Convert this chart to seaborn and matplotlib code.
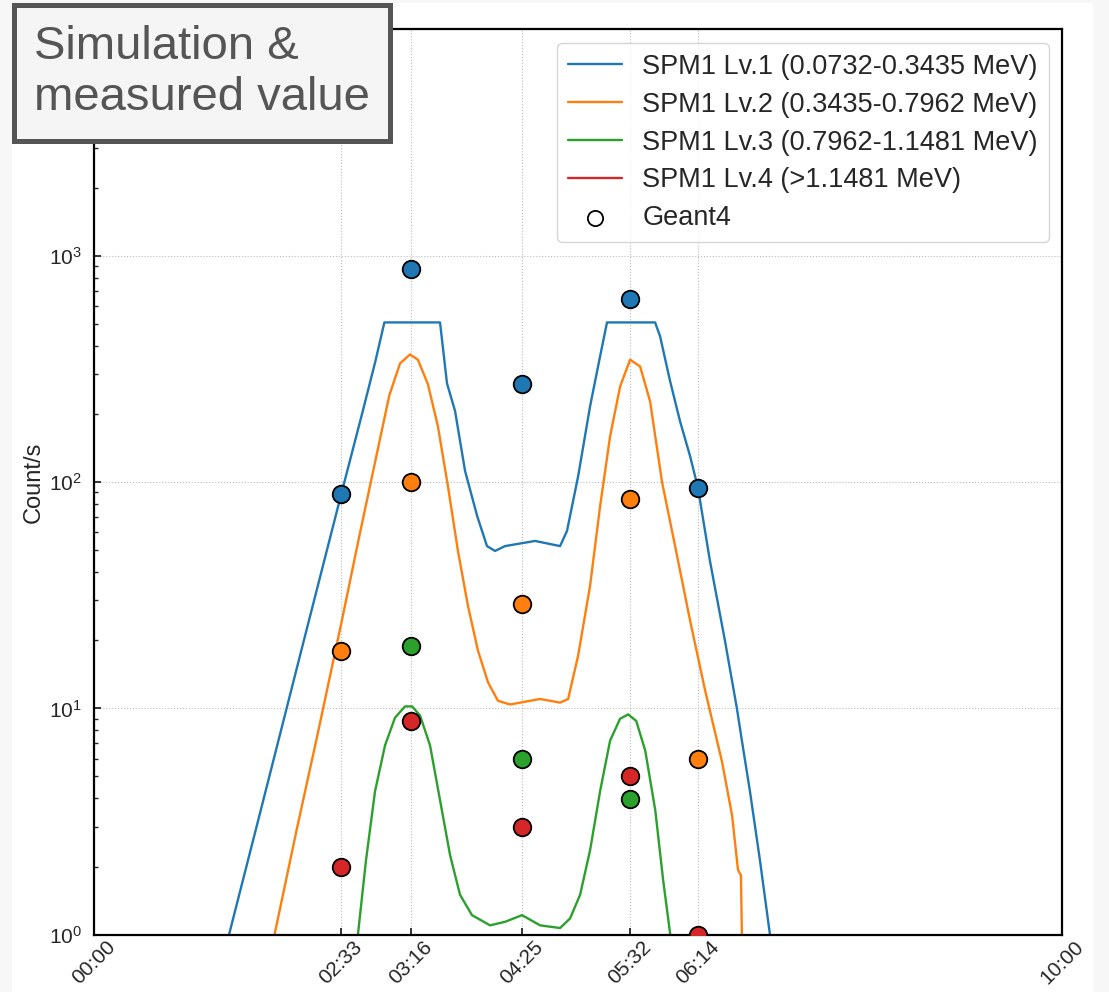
import matplotlib
matplotlib.use("Agg")
import matplotlib.pyplot as plt
import matplotlib.patches as mpatches
from matplotlib.ticker import LogLocator, NullFormatter, FuncFormatter
import numpy as np
import pandas as pd
import seaborn as sns

# ---------------- data ----------------
# simulated count rate curves (time in seconds, counts/s)
lv1_t = [83.5, 102.7, 127.5, 152.9, 166.2, 174.2, 179.8, 214.3, 218.6, 223.6, 229.8, 237.3,
         243.4, 248.4, 254.6, 273.2, 288.7, 293.0, 299.9, 307.3, 313.5, 317.8, 347.6, 350.7,
         356.9, 363.1, 369.3, 374.2, 381.6, 390.9, 398.3, 401.4, 406.4, 412.6, 418.8]
lv1_v = [1.0, 3.44, 17.1, 87.5, 203, 341, 507, 507, 273, 206, 112, 70.8,
         52.1, 49.6, 52.1, 54.9, 52.1, 60.8, 106, 216, 359, 507, 507, 440,
         279, 185, 130, 94, 44.8, 19.9, 10.0, 7.2, 4.3, 2.13, 1.0]

lv2_t = [111.7, 125.4, 138.6, 152.9, 164.3, 174.8, 182.9, 189.5, 195.7, 200.6, 206.8, 213.0,
         219.2, 225.4, 231.6, 237.8, 244.1, 250.2, 257.7, 276.3, 288.7, 293.7, 299.9, 307.3,
         313.5, 319.7, 325.9, 332.1, 338.3, 344.5, 351.9, 360.0, 369.3, 378.6, 389.1, 395.3,
         399.0, 400.8, 401.4]
lv2_v = [1.0, 2.9, 7.8, 23.4, 57.8, 130, 242, 334, 366, 347, 270, 176,
         95.7, 49.6, 28.4, 18.0, 13.0, 10.8, 10.4, 11.0, 10.6, 11.0, 17.1, 34.8,
         78, 159, 264, 347, 324, 227, 100, 52.1, 24.4, 12.0, 5.8, 3.37,
         1.93, 1.83, 1.0]

lv3_t = [163.4, 168.4, 174.0, 180.2, 186.4, 192.6, 197.0, 201.9, 208.1, 214.3, 220.5, 226.7,
         234.1, 245.3, 254.6, 265.1, 276.3, 288.7, 294.9, 301.1, 307.3, 313.5, 319.7, 325.9,
         330.9, 335.9, 341.5, 347.7, 352.6, 357.0]
lv3_v = [1.0, 2.13, 4.3, 6.86, 9.1, 10.2, 10.2, 9.3, 6.86, 3.93, 2.25, 1.5,
         1.22, 1.1, 1.14, 1.22, 1.1, 1.07, 1.18, 1.5, 2.36, 4.3, 7.2, 9.0,
         9.4, 8.8, 6.5, 3.55, 1.74, 1.0]

lv4_t = []
lv4_v = []

# Geant4 simulation points
g4_times = [153, 196, 265, 332, 374]
g4_lv1 = [88.5, 877, 270, 646, 94]
g4_lv2 = [18, 100, 29, 84, 6.0]
g4_lv3 = [np.nan, 18.9, 6.0, 3.96, np.nan]
g4_lv4 = [1.99, 8.8, 2.98, 5.0, 1.0]

tick_pos = [0, 153, 196, 265, 332, 374, 600]
tick_labels = ["00:00", "02:33", "03:16", "04:25", "05:32", "06:14", "10:00"]
ytick_pos = [1, 10, 100, 1000, 10000]
ytick_labels = [r"$\mathdefault{10^{0}}$", r"$\mathdefault{10^{1}}$",
                r"$\mathdefault{10^{2}}$", r"$\mathdefault{10^{3}}$", ""]

labels = ["SPM1 Lv.1 (0.0732-0.3435 MeV)", "SPM1 Lv.2 (0.3435-0.7962 MeV)",
          "SPM1 Lv.3 (0.7962-1.1481 MeV)", "SPM1 Lv.4 (>1.1481 MeV)"]
colors = ["#1f77b4", "#ff7f0e", "#2ca02c", "#d62728"]

# ---------------- style ----------------
sns.set_style("ticks")
plt.rcParams["font.family"] = ["Liberation Sans", "DejaVu Sans"]
plt.rcParams["mathtext.fontset"] = "custom"
plt.rcParams["mathtext.rm"] = "Liberation Sans"
plt.rcParams["mathtext.it"] = "Liberation Sans:italic"
plt.rcParams["mathtext.bf"] = "Liberation Sans:bold"

W, H = 1109, 992
fig = plt.figure(figsize=(W / 100, H / 100), dpi=100, facecolor="#f7f7f7")
fig.patches.append(mpatches.Rectangle((12 / W, 0), (1093 - 12) / W, (H - 3) / H,
                                      transform=fig.transFigure, facecolor="white",
                                      edgecolor="none", zorder=-10))
ax = fig.add_axes([94.3 / W, (H - 934.7) / H, (1062.3 - 94.3) / W, (934.7 - 29.3) / H])
ax.set_facecolor("white")

series = [(lv1_t, lv1_v), (lv2_t, lv2_v), (lv3_t, lv3_v), (lv4_t, lv4_v)]
for (t, v), c, lab in zip(series, colors, labels):
    if len(t):
        sns.lineplot(x=t, y=v, ax=ax, color=c, lw=1.7, label=lab, estimator=None, sort=False)
    else:
        ax.plot([], [], color=c, lw=1.7, label=lab)

for vals, c in zip([g4_lv1, g4_lv2, g4_lv3, g4_lv4], colors):
    sns.scatterplot(x=g4_times, y=vals, ax=ax, color=c, s=160, edgecolor="black",
                    linewidth=1.3, zorder=5, legend=False)

ax.scatter([], [], s=120, facecolor="white", edgecolor="black", linewidth=1.3, label="Geant4")

ax.set_yscale("log")
ax.set_ylim(1, 1e4)
ax.set_xlim(0, 600)
ax.set_xticks(tick_pos)
ax.set_xticklabels(tick_labels, rotation=45, fontsize=15)
ax.set_yticks(ytick_pos)
ax.set_yticklabels(ytick_labels)
ax.yaxis.set_minor_locator(LogLocator(base=10, subs=np.arange(2, 10), numticks=10))
ax.yaxis.set_minor_formatter(NullFormatter())
ax.tick_params(axis="x", which="major", direction="in", length=5, width=1.3,
               labelsize=15, pad=2)
ax.tick_params(axis="y", which="major", direction="in", length=5, width=1.3,
               labelsize=15, pad=9)
ax.tick_params(axis="y", which="minor", direction="in", length=3, width=1.0)
ax.tick_params(axis="x", which="minor", bottom=False)
for s in ax.spines.values():
    s.set_linewidth(1.6)
    s.set_color("black")
ax.grid(True, which="major", linestyle=":", color="#bbbbbb", linewidth=0.8)
ax.set_ylabel("Count/s", fontsize=17, labelpad=3)
ax.set_xlabel("")

ax.legend(loc="upper right", fontsize=19.5, labelspacing=0.44, handlelength=2.0,
          handletextpad=0.75, borderaxespad=0.5, frameon=True)

fig.text(34 / W, 1 - 25 / H, "Simulation &\nmeasured value", fontsize=34, color="#555555",
         ha="left", va="top", linespacing=1.22,
         bbox=dict(boxstyle="square,pad=0.43", facecolor="#f5f5f5", edgecolor="#555555",
                   linewidth=3.6), zorder=20)

fig.savefig("out.png", dpi=100, facecolor=fig.get_facecolor())
